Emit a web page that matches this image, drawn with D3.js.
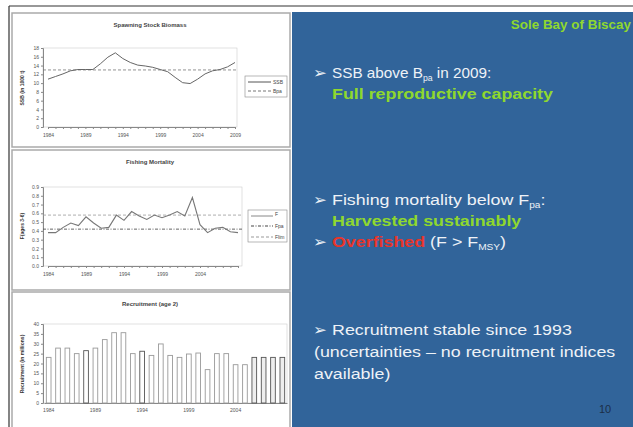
<!DOCTYPE html>
<html>
<head>
<meta charset="utf-8">
<script src="https://cdn.jsdelivr.net/npm/d3@7"></script>
<style>
body { margin: 0; background: #fff; }
text { font-family: "Liberation Sans", Arial, sans-serif; }
.tick text { font-size: 5px; fill: #555; }
.tick line, .domain { stroke: #888; }
</style>
</head>
<body>
<div id="chart"></div>
<script>
// Datos
const years = [1984,1985,1986,1987,1988,1989,1990,1991,1992,1993,1994,1995,1996,1997,1998,1999,2000,2001,2002,2003,2004,2005,2006,2007,2008,2009]
const ssb = [10.9,11.5,12.1,12.8,13.1,13.1,13.1,14.4,15.9,16.9,15.6,14.7,14.1,13.9,13.6,13.1,12.6,11.3,10.1,9.9,10.9,12.1,12.8,13.1,13.7,14.7]
const bpa = 13
const fishingF = [0.38,0.38,0.44,0.49,0.46,0.56,0.49,0.43,0.44,0.58,0.52,0.62,0.57,0.53,0.58,0.55,0.58,0.62,0.57,0.78,0.47,0.38,0.43,0.44,0.39,0.38]
const fpa = 0.42
const flim = 0.58
const recruitment = [23.1,27.8,27.8,25.0,26.5,27.8,32.1,35.6,35.6,25.0,26.2,24.1,29.9,24.1,23.1,24.8,25.3,16.9,25.0,25.0,19.4,19.4,23.1,23.1,23.1,23.1]
const labelYears = [1984,1989,1994,1999,2004,2009]

const width = 633
const height = 427
const blue = "#31649a"
const green = "#8fd82e"

const svg = d3.select("#chart").append("svg")
    .attr("width", width)
    .attr("height", height)

// marco de la diapositiva
svg.append("line").attr("x1", 9).attr("y1", 6).attr("x2", width).attr("y2", 6)
    .attr("stroke", "#333").attr("stroke-width", 1.2)
svg.append("line").attr("x1", 9).attr("y1", 6).attr("x2", 9).attr("y2", height)
    .attr("stroke", "#333").attr("stroke-width", 1.2)

// paneles de graficos
const panels = [
    {y: 13, h: 134, title: "Spawning Stock Biomass"},
    {y: 150, h: 140, title: "Fishing Mortality"},
    {y: 292, h: 140, title: "Recruitment (age 2)"}
]
panels.forEach(p => {
    svg.append("rect").attr("x", 12).attr("y", p.y).attr("width", 278).attr("height", p.h)
        .attr("fill", "#fff").attr("stroke", "#aaa").attr("stroke-width", 1.5)
    svg.append("text").attr("x", 150).attr("y", p.y + 14)
        .attr("text-anchor", "middle").style("font-size", "6px").attr("fill", "#444")
        .attr("font-weight", "bold").text(p.title)
})

function yTitle(txt, cy) {
    svg.append("text")
        .attr("transform", `translate(24, ${cy}) rotate(-90)`)
        .attr("text-anchor", "middle").style("font-size", "5px")
        .attr("font-weight", "bold").attr("fill", "#333").text(txt)
}

// ---- Grafico 1: SSB
const x1 = d3.scaleLinear().domain([1984, 2009]).range([48, 235])
const y1 = d3.scaleLinear().domain([0, 18]).range([127, 48])
svg.append("rect").attr("x", 43).attr("y", 48).attr("width", 194).attr("height", 79)
    .attr("fill", "none").attr("stroke", "#ccc").attr("stroke-width", 0.6)
svg.append("g").attr("transform", "translate(0,127)")
    .call(d3.axisBottom(x1).tickValues(years).tickSize(2).tickFormat(d => labelYears.includes(d) ? d : ""))
    .call(g => g.selectAll(".tick text").attr("dy", "0.9em"))
svg.append("g").attr("transform", "translate(43,0)")
    .call(d3.axisLeft(y1).ticks(9).tickSize(2).tickPadding(2))
yTitle("SSB (in 1000 t)", 88)
svg.append("line").attr("x1", 43).attr("x2", 237).attr("y1", y1(bpa)).attr("y2", y1(bpa))
    .attr("stroke", "#777").attr("stroke-dasharray", "3,2").attr("stroke-width", 0.8)
svg.append("path").datum(ssb)
    .attr("fill", "none").attr("stroke", "#666").attr("stroke-width", 1)
    .attr("d", d3.line().x((d, i) => x1(years[i])).y(d => y1(d)))
// leyenda 1
const lg1 = svg.append("g").attr("transform", "translate(245,76)")
lg1.append("rect").attr("width", 42).attr("height", 21).attr("fill", "#fff").attr("stroke", "#888").attr("stroke-width", 0.6)
lg1.append("line").attr("x1", 3).attr("x2", 26).attr("y1", 6).attr("y2", 6).attr("stroke", "#555")
lg1.append("line").attr("x1", 3).attr("x2", 26).attr("y1", 15).attr("y2", 15).attr("stroke", "#777").attr("stroke-dasharray", "3,2")
lg1.append("text").attr("x", 28).attr("y", 8).style("font-size", "5px").attr("fill", "#444").text("SSB")
lg1.append("text").attr("x", 28).attr("y", 17).style("font-size", "5px").attr("fill", "#444").text("Bpa")

// ---- Grafico 2: F
const x2 = d3.scaleLinear().domain([1984, 2009]).range([48, 238])
const y2 = d3.scaleLinear().domain([0, 0.9]).range([266, 187])
svg.append("rect").attr("x", 43).attr("y", 187).attr("width", 199).attr("height", 79)
    .attr("fill", "none").attr("stroke", "#ccc").attr("stroke-width", 0.6)
svg.append("g").attr("transform", "translate(0,266)")
    .call(d3.axisBottom(x2).tickValues(years).tickSize(2).tickFormat(d => labelYears.slice(0, 5).includes(d) ? d : ""))
    .call(g => g.selectAll(".tick text").attr("dy", "0.9em"))
svg.append("g").attr("transform", "translate(43,0)")
    .call(d3.axisLeft(y2).ticks(9).tickSize(2).tickPadding(2).tickFormat(d3.format(".1f")))
yTitle("F(ages 3-6)", 226)
svg.append("line").attr("x1", 43).attr("x2", 242).attr("y1", y2(flim)).attr("y2", y2(flim))
    .attr("stroke", "#999").attr("stroke-dasharray", "3,2").attr("stroke-width", 0.8)
svg.append("line").attr("x1", 43).attr("x2", 242).attr("y1", y2(fpa)).attr("y2", y2(fpa))
    .attr("stroke", "#555").attr("stroke-dasharray", "3,1.5,1,1.5").attr("stroke-width", 0.9)
svg.append("path").datum(fishingF)
    .attr("fill", "none").attr("stroke", "#777").attr("stroke-width", 1.1)
    .attr("d", d3.line().x((d, i) => x2(years[i])).y(d => y2(d)))
// leyenda 2
const lg2 = svg.append("g").attr("transform", "translate(248,210)")
lg2.append("rect").attr("width", 39).attr("height", 32).attr("fill", "#fff").attr("stroke", "#888").attr("stroke-width", 0.6)
lg2.append("line").attr("x1", 3).attr("x2", 25).attr("y1", 6).attr("y2", 6).attr("stroke", "#888")
lg2.append("line").attr("x1", 3).attr("x2", 25).attr("y1", 16).attr("y2", 16).attr("stroke", "#444").attr("stroke-width", 1.2).attr("stroke-dasharray", "3,1.5,1,1.5")
lg2.append("line").attr("x1", 3).attr("x2", 25).attr("y1", 27).attr("y2", 27).attr("stroke", "#999").attr("stroke-dasharray", "3,2")
lg2.append("text").attr("x", 27).attr("y", 6).style("font-size", "5px").attr("fill", "#444").text("F")
lg2.append("text").attr("x", 27).attr("y", 18).style("font-size", "5px").attr("fill", "#444").text("Fpa")
lg2.append("text").attr("x", 27).attr("y", 29).style("font-size", "5px").attr("fill", "#444").text("Flim")

// ---- Grafico 3: Reclutamiento
const x3 = d3.scaleBand().domain(years).range([44, 287]).paddingInner(0.5).paddingOuter(0.25)
const y3 = d3.scaleLinear().domain([0, 40]).range([403, 324])
svg.append("rect").attr("x", 43).attr("y", 324).attr("width", 244).attr("height", 79)
    .attr("fill", "none").attr("stroke", "#ccc").attr("stroke-width", 0.6)
svg.append("g").attr("transform", "translate(0,403)")
    .call(d3.axisBottom(x3).tickSize(0).tickFormat(d => labelYears.slice(0, 5).includes(d) ? d : ""))
    .call(g => g.selectAll(".tick text").attr("dy", "1.2em"))
svg.append("g").attr("transform", "translate(43,0)")
    .call(d3.axisLeft(y3).ticks(8).tickSize(2).tickPadding(2))
yTitle("Recruitment (in millions)", 364)
svg.append("g").selectAll("rect")
    .data(recruitment)
    .enter()
    .append("rect")
    .attr("x", (d, i) => x3(years[i]))
    .attr("y", d => y3(d))
    .attr("width", x3.bandwidth())
    .attr("height", d => 403 - y3(d))
    .attr("fill", (d, i) => years[i] >= 2006 ? "#eee" : "#fff")
    .attr("stroke", (d, i) => years[i] >= 2006 || years[i] == 1988 || years[i] == 1994 ? "#555" : "#999")
    .attr("stroke-width", 0.9)

// ---- Panel azul
svg.append("rect").attr("x", 292).attr("y", 12).attr("width", width - 292).attr("height", height - 12)
    .attr("fill", blue)

svg.append("text").attr("transform", "translate(631,29) scale(1.12,1)").attr("text-anchor", "end")
    .style("font-size", "12px").attr("font-weight", "bold").attr("fill", green).text("Sole Bay of Biscay")

const white = "#eef2f7"
const fs = "15px"
const sub = "8.5px"
const sx = 1.19   // el texto de la diapositiva esta estirado en horizontal

function line(x, y, stretch) {
    return svg.append("text")
        .attr("transform", `translate(${x},${y}) scale(${stretch},1)`)
        .style("font-size", fs).attr("fill", white)
}
function bullet(y) {
    line(313, y, 1.1).text("\u27A2")
}

bullet(78)
const t1 = line(332, 78, 1.02)
t1.append("tspan").text("SSB above B")
t1.append("tspan").attr("dy", 3).style("font-size", sub).text("pa")
t1.append("tspan").attr("dy", -3).text(" in 2009:")
line(332, 99, sx).attr("font-weight", "bold").attr("fill", green).text("Full reproductive capacity")

bullet(205)
const t2 = line(332, 205, sx)
t2.append("tspan").text("Fishing mortality below F")
t2.append("tspan").attr("dy", 3).style("font-size", sub).text("pa")
t2.append("tspan").attr("dy", -3).text(":")
line(332, 226, sx).attr("font-weight", "bold").attr("fill", green).text("Harvested sustainably")
bullet(247)
const t3 = line(332, 247, sx)
t3.append("tspan").attr("font-weight", "bold").attr("fill", "#e8352b").text("Overfished")
t3.append("tspan").text(" (F > F")
t3.append("tspan").attr("dy", 3).style("font-size", sub).text("MSY")
t3.append("tspan").attr("dy", -3).text(")")

bullet(335)
line(332, 335, sx).text("Recruitment stable since 1993")
line(314, 357, sx).text("(uncertainties \u2013 no recruitment indices")
line(314, 379, sx).text("available)")

svg.append("text").attr("x", 605).attr("y", 413).attr("text-anchor", "middle")
    .style("font-size", "11px").attr("fill", "#1c2e48").text("10")
</script>
</body>
</html>
